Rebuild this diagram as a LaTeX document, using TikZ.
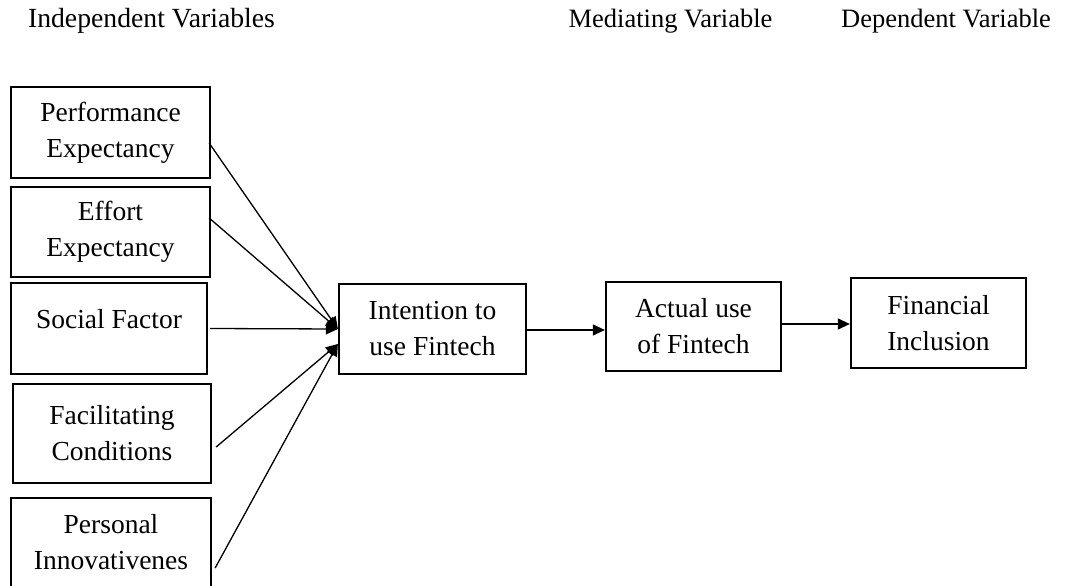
\documentclass[tikz,border=0pt]{standalone}
\usepackage{fontspec}
\setmainfont{Liberation Serif}
\usetikzlibrary{arrows.meta,calc}
\begin{document}
\begin{tikzpicture}[x=1pt,y=-1pt,
  varbox/.style={draw,line width=2.3pt,inner sep=0pt,align=center,
    font=\fontsize{27.5}{36}\selectfont},
  title/.style={anchor=base,inner sep=0pt,font=\fontsize{26.5}{32}\selectfont},
  conn/.style={line width=1.3pt,-{Triangle[length=12pt,width=11pt]}}]
\clip (0,0) rectangle (1071,586);
\useasboundingbox (0,0) rectangle (1071,586);
\node[title,font=\fontsize{27.7}{32}\selectfont] (tind) at (151.5,28) {Independent Variables};
\node[title] (tmed) at (670.5,28) {Mediating Variable};
\node[title] (tdep) at (946,28) {Dependent Variable};
\node[varbox,minimum width=199pt,minimum height=91pt] (pe) at (110.5,132.5) {Performance\\Expectancy};
\node[varbox,minimum width=199pt,minimum height=90pt] (ee) at (110.5,232) {Effort\\Expectancy};
\node[varbox,minimum width=196pt,minimum height=91pt,text height=10pt,text depth=10pt] (sf) at (109,328.5) {Social Factor};
\node[varbox,minimum width=198pt,minimum height=99pt] (fc) at (112,433.5) {Facilitating\\Conditions};
\node[varbox,minimum width=200pt,minimum height=89pt] (pi) at (111,542.5) {Personal\\Innovativenes};
\node[varbox,minimum width=187pt,minimum height=90pt] (int) at (432.5,329) {Intention to\\use Fintech};
\node[varbox,minimum width=175pt,minimum height=89pt] (act) at (693.5,326.5) {Actual use\\of Fintech};
\node[varbox,minimum width=175pt,minimum height=90pt] (fin) at (938.5,323) {Financial\\Inclusion};
\coordinate (tipa) at (int.west);
\coordinate (tipb) at ($(int.west)+(0,15)$);
\draw[conn] ($(pe.east)+(-2,10.5)$) -- (tipa);
\draw[conn] ($(ee.east)+(-2,-14)$) -- (tipa);
\draw[conn] ($(sf.east)+(2,0)$) -- (tipa);
\draw[conn] ($(fc.east)+(4,13.5)$) -- (tipb);
\draw[conn] ($(pi.east)+(3,25.5)$) -- (tipb);
\draw[conn] (int.east |- 0,330) -- (act.west |- 0,330);
\draw[conn] (act.east |- 0,324) -- (fin.west |- 0,324);
\end{tikzpicture}
\end{document}
